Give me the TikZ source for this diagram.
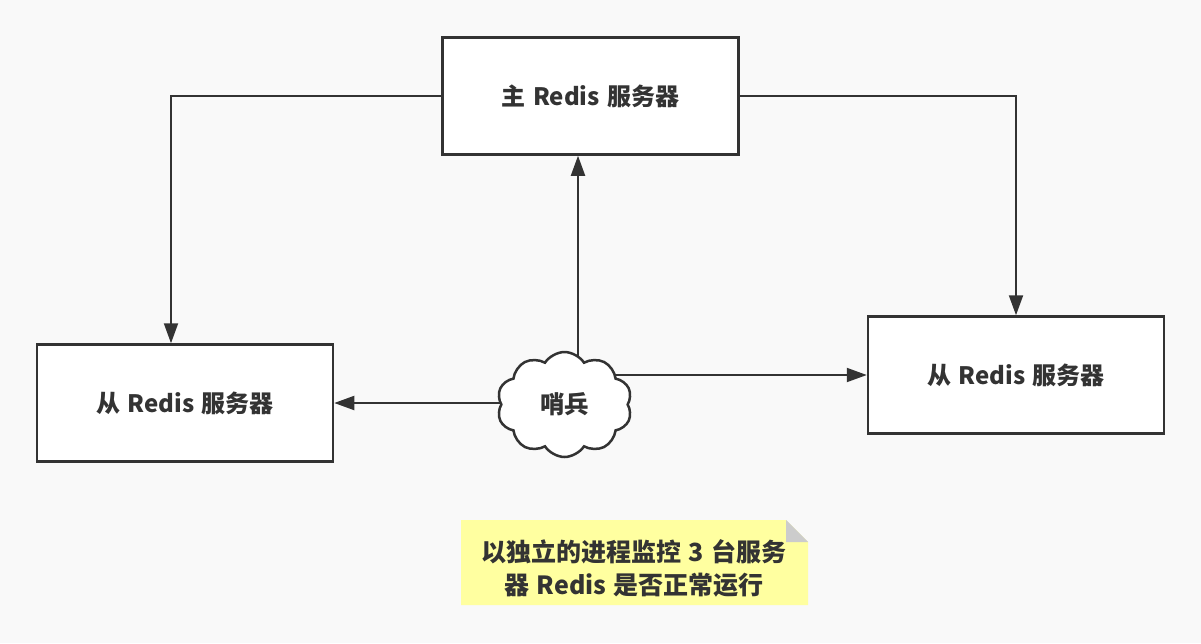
\documentclass[tikz,border=0pt]{standalone}
\usepackage{fontspec}
\setmainfont{Noto Sans CJK SC}[WordSpace=1.35]
\usetikzlibrary{arrows.meta,shapes.symbols,calc}
\definecolor{pagebg}{RGB}{249,249,249}
\definecolor{ink}{RGB}{51,51,51}
\definecolor{notefill}{RGB}{255,255,160}
\definecolor{foldfill}{RGB}{204,204,204}
\pgfdeclarelayer{bg}
\pgfdeclarelayer{edges}
\pgfsetlayers{bg,edges,main}
\tikzset{
  server/.style={draw=ink, line width=2.5pt, fill=white, minimum width=296pt, minimum height=117pt, inner sep=0pt, text=ink, font=\fontsize{24}{29}\selectfont\bfseries},
  arr/.style={draw=ink, line width=2pt, -{Triangle[length=20pt,width=14pt]}},
  sentinel/.style={cloud, cloud puffs=10, cloud puff arc=115, aspect=1.3, draw=ink, line width=2.5pt, fill=white, minimum width=135pt, minimum height=105pt, inner sep=0pt, text=ink, font=\fontsize{24.5}{29}\selectfont\bfseries},
  notetext/.style={text=ink, font=\fontsize{25}{33}\selectfont\bfseries, align=center}
}
\begin{document}
\begin{tikzpicture}[x=1pt,y=-1pt]
\begin{pgfonlayer}{bg}
\fill[pagebg] (0,0) rectangle (1201,643);
\end{pgfonlayer}
\useasboundingbox (0,0) rectangle (1201,643);
\node[server] (main) at (590.5,96) {主 Redis 服务器};
\node[server] (left) at (185,403) {从 Redis 服务器};
\node[server] (right) at (1016,375) {从 Redis 服务器};
\node[sentinel] (cloud) at (564.5,404.5) {哨兵};
% note
\fill[notefill] (461,520) -- (786,520) -- (808,542) -- (808,605) -- (461,605) -- cycle;
\fill[foldfill] (786,520) -- (808,542) -- (786,542) -- cycle;
\node[notetext] (note) at (634,568.5) {以独立的进程监控 3 台服务\\器 Redis 是否正常运行};
\begin{pgfonlayer}{edges}
\coordinate (ltop) at (171,96);
\coordinate (rtop) at (1016,96);
\draw[arr] (main.west) -- (ltop) -- (ltop |- left.north);
\draw[arr] (main.east) -- (rtop) -- (rtop |- right.north);
\coordinate (cup) at ($(cloud.center)+(13.5,0)$);
\draw[arr] (cup) -- (cup |- main.south);
\draw[arr] (cloud.center |- left.east) -- (left.east);
\draw[arr] (cloud.center |- right.west) -- (right.west);
\end{pgfonlayer}
\end{tikzpicture}
\end{document}
